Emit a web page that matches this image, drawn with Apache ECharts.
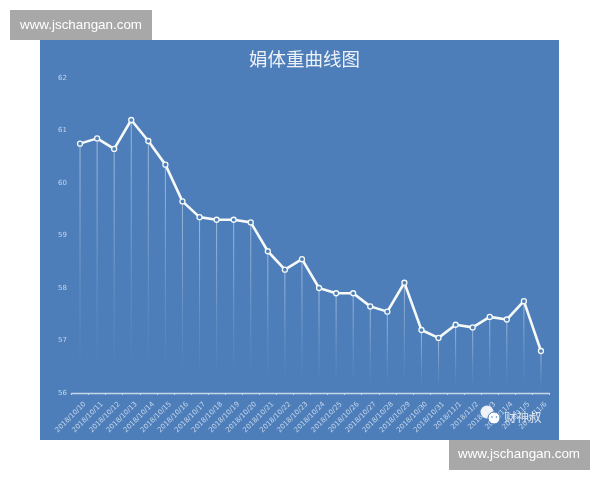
<!DOCTYPE html>
<html><head><meta charset="utf-8">
<style>html,body{margin:0;padding:0;background:#fff}#c{width:600px;height:480px}</style>
<script src="https://cdn.jsdelivr.net/npm/echarts@6/dist/echarts.min.js"></script>
</head><body><div id="c"></div>
<script>
const categories = ['2018/10/10','2018/10/11','2018/10/12','2018/10/13','2018/10/14','2018/10/15','2018/10/16','2018/10/17','2018/10/18','2018/10/19','2018/10/20','2018/10/21','2018/10/22','2018/10/23','2018/10/24','2018/10/25','2018/10/26','2018/10/27','2018/10/28','2018/10/29','2018/10/30','2018/10/31','2018/11/1','2018/11/2','2018/11/3','2018/11/4','2018/11/5','2018/11/6'];
const weights = [60.75,60.85,60.65,61.2,60.8,60.35,59.65,59.35,59.3,59.3,59.25,58.7,58.35,58.55,58.0,57.9,57.9,57.65,57.55,58.1,57.2,57.05,57.3,57.25,57.45,57.4,57.75,56.8];
const titleText = '娟体重曲线图';
const siteText = 'www.jschangan.com';
const markText = '财神叔';

const chart = echarts.init(document.getElementById('c'), null, {renderer:'canvas'});
chart.setOption({
  animation:false,
  backgroundColor:'#ffffff',
  title:{text:titleText,left:299.5,top:45,textAlign:'center',
    textStyle:{color:'#eef2f8',fontSize:18.5,fontWeight:'normal',fontFamily:'"Noto Sans CJK SC"'}},
  grid:{left:71.5,right:50.5,top:78,bottom:87},
  xAxis:{type:'category',data:categories,boundaryGap:true,
    axisLine:{lineStyle:{color:'#c5d6ea',width:1.4}},
    axisTick:{show:true,alignWithLabel:false,length:2,lineStyle:{color:'#c5d6ea'}},
    axisLabel:{interval:0,rotate:45,color:'#c3d5ea',fontSize:7,margin:5,verticalAlign:'top',lineHeight:14,fontFamily:'"DejaVu Sans"'},
    splitLine:{show:false}},
  yAxis:{type:'value',min:56,max:62,interval:1,
    axisLine:{show:false},axisTick:{show:false},splitLine:{show:false},
    axisLabel:{color:'#c3d5ea',fontSize:7,margin:4.5,fontFamily:'"DejaVu Sans"'}},
  series:[
    {type:'bar',data:weights,barWidth:1,silent:true,
      itemStyle:{color:new echarts.graphic.LinearGradient(0,0,0,1,[
        {offset:0,color:'rgba(225,236,248,0.55)'},
        {offset:0.6,color:'rgba(225,236,248,0.14)'},
        {offset:0.9,color:'rgba(225,236,248,0)'}])}},
    {type:'line',data:weights,symbol:'circle',symbolSize:5,showSymbol:true,
      lineStyle:{color:'#f5f9f7',width:2.6},
      itemStyle:{color:'#4f7fb9',borderColor:'#f5f9f7',borderWidth:1.3},z:5}
  ],
  graphic:[
    {type:'rect',z:-10,zlevel:0,silent:true,shape:{x:40,y:40,width:519,height:400},style:{fill:'#4e7eb9'}},
    {type:'rect',z:10,shape:{x:10,y:10,width:142,height:30},style:{fill:'#a8a8a8'}},
    {type:'text',z:11,x:81,y:25,style:{text:siteText,fill:'#ffffff',font:'13.4px "Liberation Sans"',textAlign:'center',textVerticalAlign:'middle'}},
    {type:'rect',z:10,shape:{x:449,y:440,width:141,height:30},style:{fill:'#a8a8a8'}},
    {type:'text',z:11,x:519,y:454,style:{text:siteText,fill:'#ffffff',font:'13.4px "Liberation Sans"',textAlign:'center',textVerticalAlign:'middle'}},
    {type:'circle',z:12,shape:{cx:487,cy:412,r:6.5},style:{fill:'rgba(245,248,250,0.95)'}},
    {type:'circle',z:13,shape:{cx:494,cy:418,r:6},style:{fill:'#ffffff',stroke:'#4e7eb9',lineWidth:1}},
    {type:'circle',z:14,shape:{cx:492,cy:417,r:0.8},style:{fill:'#4e7eb9'}},
    {type:'circle',z:14,shape:{cx:496.5,cy:417,r:0.8},style:{fill:'#4e7eb9'}},
    {type:'text',z:12,x:504,y:417,style:{text:markText,fill:'rgba(235,238,242,0.9)',font:'12.5px "Noto Sans CJK SC"',textVerticalAlign:'middle'}}
  ]
});
</script></body></html>
